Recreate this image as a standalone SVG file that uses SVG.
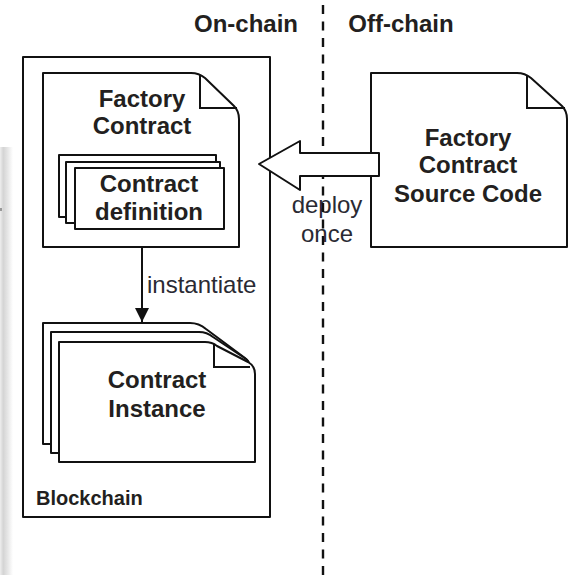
<svg xmlns="http://www.w3.org/2000/svg" width="577" height="575" viewBox="0 0 577 575">
<defs>
<linearGradient id="shadow" x1="0" y1="0" x2="1" y2="0">
<stop offset="0" stop-color="#eeeeee"/>
<stop offset="0.25" stop-color="#d4d4d4"/>
<stop offset="0.55" stop-color="#e4e4e4"/>
<stop offset="1" stop-color="#ffffff"/>
</linearGradient>
<marker id="arrow" viewBox="0 0 14 20" refX="14" refY="10" markerWidth="14" markerHeight="20" markerUnits="userSpaceOnUse" orient="auto">
<path d="M0,3 L14,10 L0,17 Z" fill="#111"/>
</marker>
</defs>
<style>
.shape{fill:#fff;stroke:#111;stroke-width:2;stroke-linejoin:round}
.line{fill:none;stroke:#111;stroke-width:2}
.b{font-family:"Liberation Sans",Arial,sans-serif;font-weight:bold;font-size:24px;fill:#231f20;text-anchor:middle}
.r{font-family:"Liberation Sans",Arial,sans-serif;font-size:24px;fill:#2a2a33}
</style>
<rect width="577" height="575" fill="#fff"/>
<rect x="0" y="147" width="13" height="428" fill="url(#shadow)"/>
<rect x="0" y="208" width="2" height="3" fill="#999"/>

<g id="headers">
<text class="b" x="246" y="32">On-chain</text>
<text class="b" x="401" y="32">Off-chain</text>
</g>

<g id="blockchain">
<rect class="shape" x="23" y="57" width="247" height="460" fill="none"/>
<text class="b" x="36" y="505" style="font-size:20px;text-anchor:start">Blockchain</text>
</g>

<g id="factory-contract">
<path class="shape" d="M43,73 H191 Q199,73 205,78 L234,106 Q239,111 239,119 V247 H43 Z"/>
<path class="line" d="M200,75 V108 H237"/>
<text class="b" x="142" y="107">Factory</text>
<text class="b" x="142" y="134">Contract</text>
</g>

<g id="contract-definition">
<rect class="shape" x="59" y="155" width="157" height="62"/>
<rect class="shape" x="66" y="162" width="154" height="61"/>
<rect class="shape" x="75" y="168" width="149" height="61"/>
<text class="b" x="149" y="192">Contract</text>
<text class="b" x="149" y="220">definition</text>
</g>

<g id="contract-instance">
<path class="shape" d="M43,323 H190 Q199,323 206,329 L245,358 Q249,361 249,366 V444 H43 Z"/>
<path class="shape" d="M51,332 H199 Q207,332 213,337 L246,359 Q250,362 250,367 V453 H51 Z"/>
<path class="shape" d="M59,342 H205 Q212,342 217,346 L248,362 Q255,366 255,374 V462 H59 Z"/>
<path class="line" d="M214,344 V367 H250"/>
<text class="b" x="157" y="388">Contract</text>
<text class="b" x="157" y="417">Instance</text>
</g>

<g id="source-code">
<path class="shape" d="M371,73 H517 Q525,73 531,78 L562,106 Q567,111 567,119 V247 H371 Z"/>
<path class="line" d="M527,75 V108 H565"/>
<text class="b" x="468" y="146">Factory</text>
<text class="b" x="468" y="173">Contract</text>
<text class="b" x="468" y="202">Source Code</text>
</g>

<g id="connectors">
<line class="line" x1="142" y1="247" x2="142" y2="322" marker-end="url(#arrow)"/>
<text class="r" x="147" y="293">instantiate</text>
<text class="r" x="327" y="213" text-anchor="middle">deploy</text>
<text class="r" x="327" y="242" text-anchor="middle">once</text>
<line id="divider" x1="323" y1="5" x2="323" y2="575" stroke="#111" stroke-width="2.4" stroke-dasharray="9,7.5"/>
<path class="shape" d="M259,164 L300,141 V153 H379 V176 H300 V190 Z"/>
</g>
</svg>
